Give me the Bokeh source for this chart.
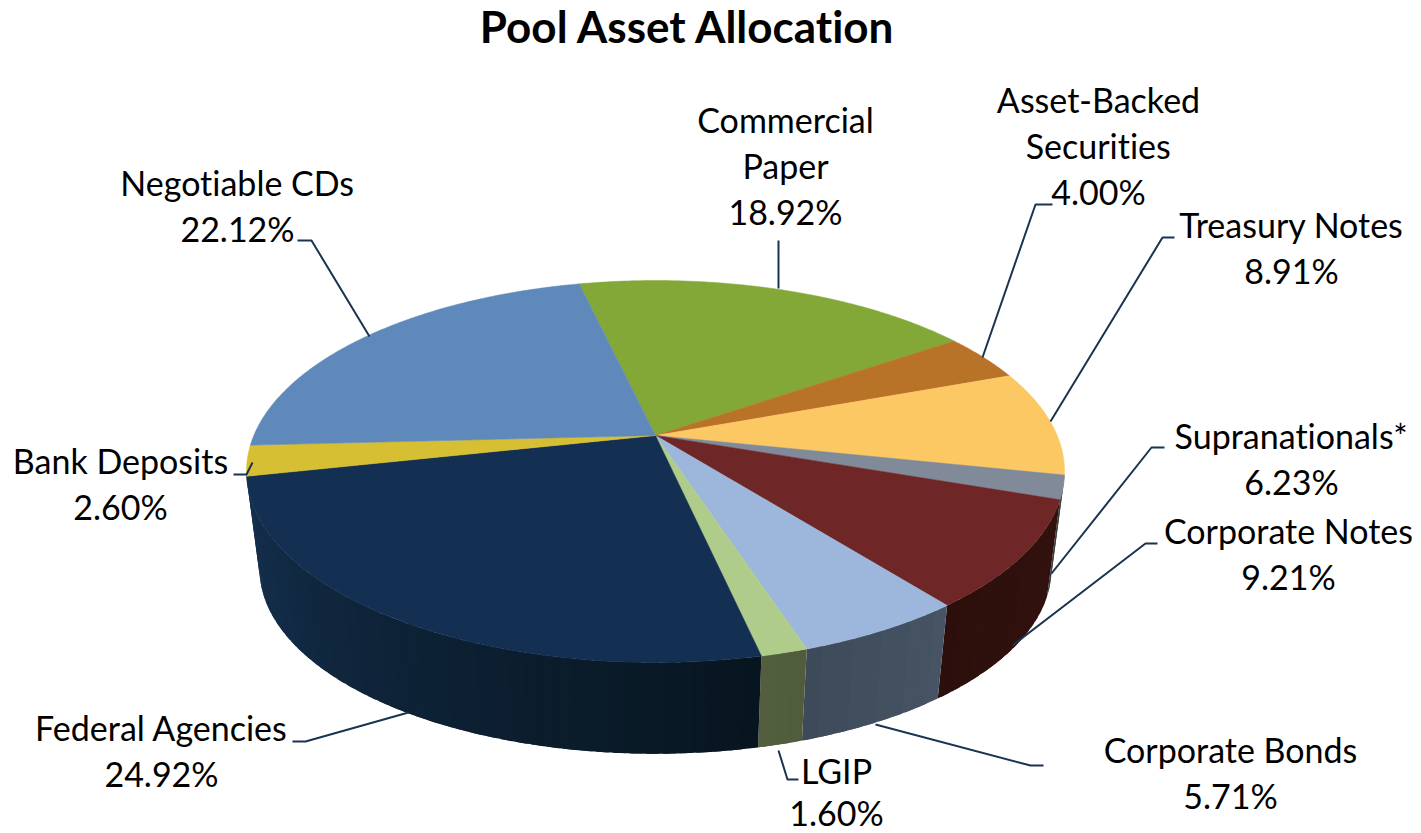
import math
from bokeh.plotting import figure
from bokeh.models import Range1d, InlineStyleSheet
from bokeh.core.properties import value
from bokeh.embed import file_html
from bokeh.resources import INLINE

# --- data -------------------------------------------------------------
title = "Pool Asset Allocation"
# slices clockwise, beginning at Commercial Paper
categories = ["Commercial Paper", "Asset-Backed Securities", "Treasury Notes", "Supranationals*",
              "Corporate Notes", "Corporate Bonds", "LGIP", "Federal Agencies", "Bank Deposits",
              "Negotiable CDs"]
label_values = ["18.92%", "4.00%", "8.91%", "6.23%", "9.21%", "5.71%", "1.60%", "24.92%", "2.60%", "22.12%"]
# share of the circle each slice occupies
# (the printed 6.23% is drawn as a sliver of about 2%)
slice_values = [19.00, 4.00, 8.92, 2.00, 9.08, 5.61, 1.55, 25.04, 2.58, 22.22]
top_colors = ["#83a838", "#b97328", "#fbc864", "#808a98", "#6e2726", "#9db6dc", "#b0cc8a", "#132f52",
              "#d7bf33", "#5f89bb"]
# wall colours run clockwise: first value is the start of the slice on the wall
wall_start = ["#83a838", "#b97328", "#fbc864", "#3a3d45", "#33120e", "#465464", "#4f5c3c", "#07151f",
              "#15304f", "#2f4560"]
wall_end = ["#83a838", "#b97328", "#fbc864", "#3a3d45", "#2c0f0c", "#3d4a59", "#525f3f", "#15304f",
            "#15304f", "#2f4560"]
label_lines = [["Commercial", "Paper"], ["Asset-Backed", "Securities"], ["Treasury Notes"], ["Supranationals*"],
               ["Corporate Notes"], ["Corporate Bonds"], ["LGIP"], ["Federal Agencies"], ["Bank Deposits"],
               ["Negotiable CDs"]]

# --- layout (pixel space of the picture) ------------------------------
CX, CY = 655.0, 435.0
A, B, K = 401.7, 184.2, 0.1885
WALL_DROP, WALL_SCALE = 98.5, 0.968
START_DEG = -13.0
LINE_H = [46, 46, 46, 46, 46, 46, 42, 46, 46, 46]
FS = 34.0
label_pos = [(785, 119), (1098, 99), (1291, 224), (1291, 435), (1288, 530), (1230, 749), (836, 770),
             (161, 727), (120, 460), (237, 182)]
leaders = [
    [(778, 240), (778, 288)],
    [(1052, 204), (1035, 204), (982, 357)],
    [(1174, 237), (1162, 237), (1050, 421)],
    [(1164, 447), (1151, 447), (1051, 573)],
    [(1157, 543), (1145, 543), (1012, 645)],
    [(1043, 765), (1030, 765), (875, 724)],
    [(798, 779), (787, 779), (778, 750)],
    [(292, 741), (305, 741), (408, 712)],
    [(233, 474), (246, 474), (252, 462)],
    [(297, 240), (311, 240), (369, 336)],
]


def top_pt(t):
    u, v = math.sin(t), math.cos(t)
    d = 1 + K * v
    return CX + A * u / d, CY - B * v / d


def bot_pt(t):
    u, v = math.sin(t), math.cos(t)
    d = 1 + K * v
    return CX + WALL_SCALE * A * u / d, CY + WALL_DROP - WALL_SCALE * B * v / d


def mix(c1, c2, f):
    a = [int(c1[i:i + 2], 16) for i in (1, 3, 5)]
    b = [int(c2[i:i + 2], 16) for i in (1, 3, 5)]
    return "#%02x%02x%02x" % tuple(round(a[i] + (b[i] - a[i]) * f) for i in range(3))


p = figure(width=1421, height=833, x_range=Range1d(0, 1421), y_range=Range1d(833, 0),
           output_backend="svg", toolbar_location=None, min_border=0,
           outline_line_color=None, background_fill_color="white", border_fill_color="white")
p.axis.visible = False
p.grid.visible = False
p.stylesheets = [InlineStyleSheet(css=":host{font-variant-ligatures:none;} text{font-variant-ligatures:none;}")]

total = sum(slice_values)
edges = [START_DEG]
for s in slice_values:
    edges.append(edges[-1] + 360 * s / total)

# walls: drawn clockwise; every strip runs on under the next one so no seams show
sx, sy, sc = [], [], []
W0, W1 = 101.0, 259.0
for i in range(len(slice_values)):
    a0, a1 = max(edges[i], W0), min(edges[i + 1], W1)
    if a1 <= a0:
        continue
    n = max(3, int((a1 - a0) / 2.0))
    for j in range(n):
        d0 = a0 + (a1 - a0) * j / n
        d1 = min(a1, a0 + (a1 - a0) * (j + 1) / n + 1.5)
        m = 6
        arc = [math.radians(d0 + (d1 - d0) * q / m) for q in range(m + 1)]
        pts = [top_pt(t) for t in arc] + [bot_pt(t) for t in reversed(arc)]
        sx.append([q[0] for q in pts])
        sy.append([q[1] for q in pts])
        sc.append(mix(wall_start[i], wall_end[i], (j + 0.5) / n))
p.patches(sx, sy, fill_color=sc, line_color=None)

# top face
xs, ys = [], []
for i in range(len(slice_values)):
    n = max(4, int((edges[i + 1] - edges[i]) / 0.5))
    pts = [(CX, CY)] + [top_pt(math.radians(edges[i] + (edges[i + 1] - edges[i]) * j / n)) for j in range(n + 1)]
    xs.append([q[0] for q in pts])
    ys.append([q[1] for q in pts])
p.patches(xs, ys, fill_color=top_colors, line_color=top_colors, line_width=0.5)

# leaders
p.multi_line([[q[0] for q in l] for l in leaders], [[q[1] for q in l] for l in leaders],
             line_color="#1a3350", line_width=2)

# labels
tx, ty, tt = [], [], []
for i, lines in enumerate(label_lines):
    x, y = label_pos[i]
    for k, s in enumerate(lines + [label_values[i]]):
        tx.append(x)
        ty.append(y + k * LINE_H[i])
        tt.append(s)
p.text(tx, ty, text=tt, text_font=value("Lato"), text_font_size=f"{FS}px", text_color="#000000",
       text_align="center", text_baseline="middle")
p.text([688], [25], text=[title], text_font=value("Lato"), text_font_style="bold", text_font_size="44px",
       text_color="#000000", text_align="center", text_baseline="middle")

open("out.html", "w").write(file_html(p, INLINE))
